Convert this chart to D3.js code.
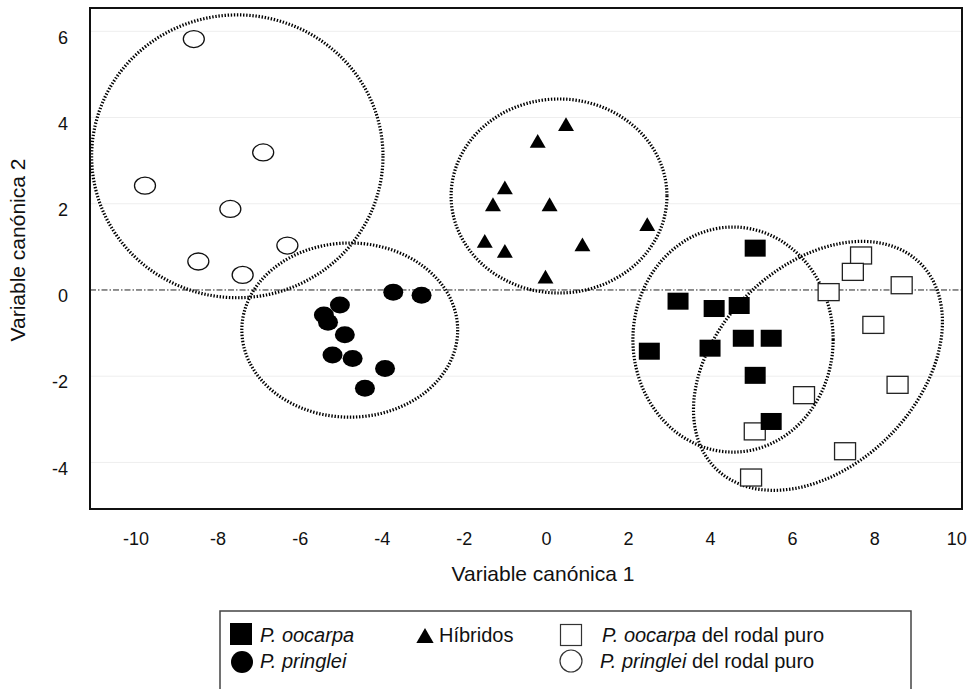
<!DOCTYPE html>
<html>
<head>
<meta charset="utf-8">
<script src="https://cdn.jsdelivr.net/npm/d3@7"></script>
<style>
  body { margin: 0; background: #fff; }
  svg { display: block; font-family: "Liberation Sans", Arial, Helvetica, sans-serif; }
</style>
</head>
<body>
<div id="chart"></div>
<script>
// Tick values
const xTicks = [-10, -8, -6, -4, -2, 0, 2, 4, 6, 8, 10];
const yTicks = [-4, -2, 0, 2, 4, 6];

// Series: [canonical 1, canonical 2]
const oocarpa = [
  [5.10, 0.97], [3.22, -0.26], [4.10, -0.43], [4.71, -0.36], [4.81, -1.12],
  [5.49, -1.12], [2.52, -1.42], [4.00, -1.35], [5.10, -1.98], [5.49, -3.05]
];
const pringlei = [
  [-3.72, -0.05], [-3.03, -0.12], [-5.02, -0.35], [-5.41, -0.58], [-5.31, -0.75],
  [-4.90, -1.04], [-5.20, -1.51], [-4.71, -1.59], [-3.92, -1.82], [-4.41, -2.28]
];
const hibridos = [
  [0.49, 3.83], [-0.20, 3.44], [-1.00, 2.36], [-1.29, 1.97], [0.09, 1.97],
  [2.47, 1.51], [-1.49, 1.12], [-1.00, 0.89], [0.89, 1.04], [-0.01, 0.29]
];
const oocarpaPuro = [
  [7.68, 0.80], [7.48, 0.42], [8.67, 0.11], [6.89, -0.05], [7.98, -0.81],
  [8.57, -2.20], [6.29, -2.44], [5.09, -3.28], [7.29, -3.74], [5.00, -4.35]
];
const pringleiPuro = [
  [-8.58, 5.82], [-6.89, 3.19], [-9.77, 2.42], [-7.69, 1.88], [-6.30, 1.03],
  [-8.47, 0.66], [-7.39, 0.35]
];

// Group ellipses: centre, radii (axis units), rotation in degrees
const ellipseCx = [-7.52, -4.78, 0.32, 4.56, 6.63];
const ellipseCy = [3.10, -0.93, 2.18, -1.15, -1.76];
const ellipseRx = [3.55, 2.63, 2.63, 2.44, 3.53];
const ellipseRy = [3.28, 2.02, 2.25, 2.61, 2.32];
const ellipseAngle = [0, 0, 0, 0, -45];

const width = 976, height = 689;
const margin = { top: 8, right: 14, bottom: 180, left: 90 };

const svg = d3.select("#chart").append("svg")
  .attr("width", width)
  .attr("height", height);

const x = d3.scaleLinear().domain([-11.11, 10.14]).range([margin.left, width - margin.right]);
const y = d3.scaleLinear().domain([-5.08, 6.54]).range([height - margin.bottom, margin.top]);
const kx = x(1) - x(0), ky = y(0) - y(1);

// faint gridlines
svg.append("g")
  .selectAll("line")
  .data(yTicks.filter(d => d !== 0))
  .enter()
  .append("line")
  .attr("x1", x.range()[0]).attr("x2", x.range()[1])
  .attr("y1", d => y(d)).attr("y2", d => y(d))
  .attr("stroke", "#eeeeee")
  .attr("stroke-width", 1);

// zero line
svg.append("line")
  .attr("x1", x.range()[0]).attr("x2", x.range()[1])
  .attr("y1", y(0)).attr("y2", y(0))
  .attr("stroke", "#222")
  .attr("stroke-width", 1)
  .attr("stroke-dasharray", "6 2 1.5 2");

// dotted ellipses
svg.append("g")
  .selectAll("ellipse")
  .data(ellipseCx.map((d, i) => i))
  .enter()
  .append("ellipse")
  .attr("transform", i => `translate(${x(ellipseCx[i])},${y(ellipseCy[i])}) rotate(${ellipseAngle[i]})`)
  .attr("rx", i => ellipseRx[i] * kx)
  .attr("ry", i => ellipseRy[i] * ky)
  .attr("fill", "none")
  .attr("stroke", "#000")
  .attr("stroke-width", 3.2)
  .attr("stroke-dasharray", "1.4 1.7");

const marks = svg.append("g");

// open circles
marks.selectAll(".pp").data(pringleiPuro).enter().append("ellipse")
  .attr("cx", d => x(d[0])).attr("cy", d => y(d[1]))
  .attr("rx", 10.5).attr("ry", 8.5)
  .attr("fill", "#fff").attr("stroke", "#111").attr("stroke-width", 1.3);

// filled circles
marks.selectAll(".p").data(pringlei).enter().append("ellipse")
  .attr("cx", d => x(d[0])).attr("cy", d => y(d[1]))
  .attr("rx", 10).attr("ry", 8.5)
  .attr("fill", "#000");

// triangles
const tri = d3.symbol().type(d3.symbolTriangle).size(110);
marks.selectAll(".h").data(hibridos).enter().append("path")
  .attr("d", tri)
  .attr("transform", d => `translate(${x(d[0])},${y(d[1]) + 1.5})`)
  .attr("fill", "#000");

// open squares
marks.selectAll(".op").data(oocarpaPuro).enter().append("rect")
  .attr("x", d => x(d[0]) - 10.5).attr("y", d => y(d[1]) - 8.5)
  .attr("width", 21).attr("height", 17)
  .attr("fill", "#fff").attr("stroke", "#222").attr("stroke-width", 1.3);

// filled squares
marks.selectAll(".o").data(oocarpa).enter().append("rect")
  .attr("x", d => x(d[0]) - 10.5).attr("y", d => y(d[1]) - 8.5)
  .attr("width", 21).attr("height", 17)
  .attr("fill", "#000");

// frame
svg.append("rect")
  .attr("x", x.range()[0]).attr("y", y.range()[1])
  .attr("width", x.range()[1] - x.range()[0])
  .attr("height", y.range()[0] - y.range()[1])
  .attr("fill", "none")
  .attr("stroke", "#111")
  .attr("stroke-width", 2);

const fmt = d => String(d).replace("\u2212", "-");

// axes (labels only)
const xAxis = svg.append("g")
  .attr("transform", `translate(0,${y.range()[0] + 20})`)
  .call(d3.axisBottom(x).tickValues(xTicks).tickSize(0).tickFormat(fmt));
const yAxis = svg.append("g")
  .attr("transform", `translate(${x.range()[0] - 22},6)`)
  .call(d3.axisLeft(y).tickValues(yTicks).tickSize(0).tickFormat(fmt));
[xAxis, yAxis].forEach(a => {
  a.select(".domain").remove();
  a.selectAll("text")
    .attr("fill", "#111")
    .style("font-size", "18px")
    .style("font-family", "'Liberation Sans', Arial, sans-serif");
});
yAxis.selectAll("text").attr("x", 0);

// axis titles
svg.append("text")
  .attr("x", 543).attr("y", 581)
  .attr("text-anchor", "middle")
  .style("font-size", "21px")
  .attr("fill", "#111")
  .text("Variable canónica 1");
svg.append("text")
  .attr("transform", "translate(25,250) rotate(-90)")
  .attr("text-anchor", "middle")
  .style("font-size", "21px")
  .attr("fill", "#111")
  .text("Variable canónica 2");

// legend
const lg = svg.append("g");
lg.append("rect")
  .attr("x", 220).attr("y", 611)
  .attr("width", 691).attr("height", 100)
  .attr("fill", "none").attr("stroke", "#444").attr("stroke-width", 1.5);

lg.append("rect").attr("x", 230).attr("y", 623).attr("width", 22).attr("height", 22).attr("fill", "#000");
lg.append("path")
  .attr("d", d3.symbol().type(d3.symbolTriangle).size(130))
  .attr("transform", "translate(425,638)")
  .attr("fill", "#000");
lg.append("rect").attr("x", 560.5).attr("y", 624.5).attr("width", 21).attr("height", 21)
  .attr("fill", "#fff").attr("stroke", "#333").attr("stroke-width", 1.2);
lg.append("circle").attr("cx", 242).attr("cy", 662).attr("r", 11).attr("fill", "#000");
lg.append("circle").attr("cx", 571).attr("cy", 661).attr("r", 11)
  .attr("fill", "#fff").attr("stroke", "#333").attr("stroke-width", 1.2);

function legendText(xp, yp, italic, rest) {
  const t = lg.append("text").attr("x", xp).attr("y", yp)
    .style("font-size", "20px").attr("fill", "#111");
  if (italic) t.append("tspan").style("font-style", "italic").text(italic);
  if (rest) t.append("tspan").text(rest);
}
legendText(260, 642, "P. oocarpa", null);
legendText(439, 642, null, "Híbridos");
legendText(602, 642, "P. oocarpa", " del rodal puro");
legendText(260, 668, "P. pringlei", null);
legendText(600, 668, "P. pringlei", " del rodal puro");
</script>
</body>
</html>
